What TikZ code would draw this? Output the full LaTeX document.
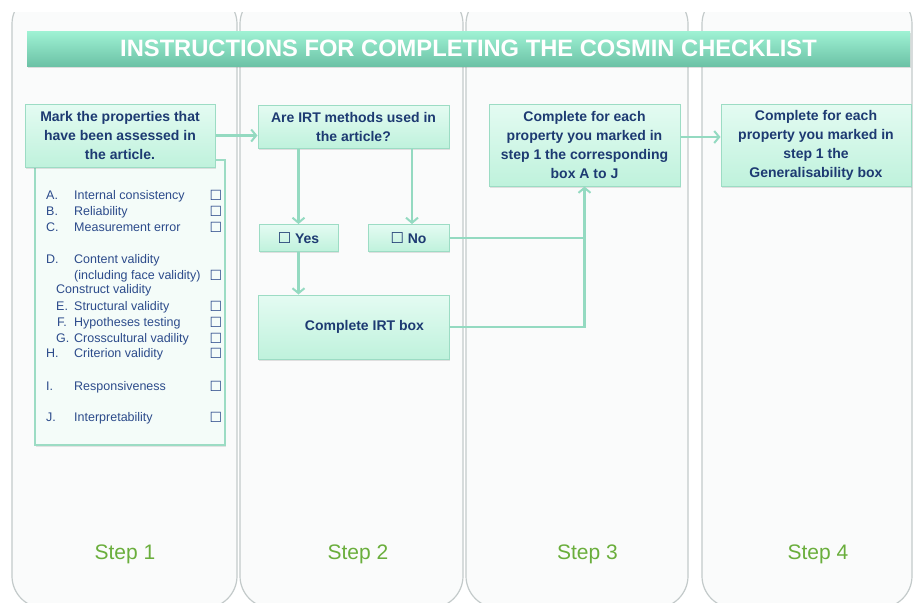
\documentclass[tikz,border=0pt]{standalone}
\usepackage{fontspec}
\setmainfont{Liberation Sans}
\newfontfamily\symf{DejaVu Sans}
\usetikzlibrary{arrows.meta,shadows,calc}
\definecolor{bannertop}{HTML}{9FF2D4}
\definecolor{bannerbot}{HTML}{6CC2A6}
\definecolor{boxtop}{HTML}{E4FBF2}
\definecolor{boxbot}{HTML}{BFF2DC}
\definecolor{boxline}{HTML}{9CDCC4}
\definecolor{connc}{HTML}{94DAC1}
\definecolor{navy}{HTML}{1D3A72}
\definecolor{listblue}{HTML}{2C4B8B}
\definecolor{listfill}{HTML}{F4FCF9}
\definecolor{panelbg}{HTML}{FAFBFB}
\definecolor{panelline}{HTML}{C3CACA}
\definecolor{stepgreen}{HTML}{6AAE3C}
\tikzset{
  panel/.style={rounded corners=32pt, fill=panelbg, draw=panelline, line width=1.2pt},
  banner/.style={minimum width=883pt, minimum height=35pt, inner sep=0pt, top color=bannertop, bottom color=bannerbot, text=white,
    font=\bfseries\fontsize{23.7}{28}\selectfont, drop shadow={shadow xshift=1pt,shadow yshift=-1.5pt,opacity=.25}},
  stepbox/.style={draw=boxline, line width=1pt, top color=boxtop, bottom color=boxbot, inner sep=0pt, align=center, text=navy,
    font=\bfseries\fontsize{14}{19}\selectfont, drop shadow={shadow xshift=1pt,shadow yshift=-1.5pt,opacity=.22}},
  listbox/.style={draw=boxline, line width=1.3pt, fill=listfill, inner sep=0pt, drop shadow={shadow xshift=1pt,shadow yshift=-1.5pt,opacity=.2}},
  itm/.style={anchor=base west, inner sep=0pt, text=listblue, font=\fontsize{12.5}{15}\selectfont},
  cbx/.style={anchor=center, inner sep=0pt, text=listblue, font=\symf\fontsize{14}{14}\selectfont},
  steplbl/.style={anchor=base, inner sep=0pt, text=stepgreen, font=\fontsize{21}{24}\selectfont},
  conn/.style={draw=connc, line width=2.5pt},
  arr/.style={conn, -{Straight Barb[length=5pt,width=12pt,line width=2pt]}}
}
\begin{document}
\begin{tikzpicture}[x=1pt,y=-1pt]
\useasboundingbox (0,0) rectangle (914,603);
\fill[white] (0,0) rectangle (914,603);
% panels
\begin{scope}
\clip (0,12) rectangle (914,603);
\draw[panel] (12,-8) rectangle (237,608);
\draw[panel] (240,-8) rectangle (463,608);
\draw[panel] (466,-8) rectangle (688,608);
\draw[panel] (702,-8) rectangle (912,608);
\end{scope}
% banner
\node[banner] (title) at (468.5,48.5) {INSTRUCTIONS FOR COMPLETING THE COSMIN CHECKLIST};
% list box
\node[listbox, minimum width=190pt, minimum height=285pt] (lst) at (130,302.5) {};
% step boxes
\node[stepbox, minimum width=190pt, minimum height=63pt] (box1) at (120,135.5) {Mark the properties that\\have been assessed in\\the article.};
\node[stepbox, minimum width=191pt, minimum height=43pt] (box2) at (353.5,126.5) {Are IRT methods used in\\the article?};
\node[stepbox, minimum width=191pt, minimum height=82pt] (box3) at (584.5,145) {Complete for each\\property you marked in\\step 1 the corresponding\\box A to J};
\node[stepbox, minimum width=190pt, minimum height=82pt] (box4) at (816,145) {Complete for each\\property you marked in\\step 1 the\\Generalisability box};
\node[stepbox, minimum width=79pt, minimum height=27pt] (yes) at (298.5,238) {{\symf\fontsize{15}{15}\selectfont\mdseries ☐} Yes};
\node[stepbox, minimum width=81pt, minimum height=27pt] (no) at (408.5,238) {{\symf\fontsize{15}{15}\selectfont\mdseries ☐} No};
\node[stepbox, minimum width=191pt, minimum height=64pt] (irt) at (353.5,327) {\hspace*{22pt}Complete IRT box};
% list items
\node[itm] (lA) at (46,199) {A.};  \node[itm] (tA) at (74,199) {Internal consistency};
\node[itm] (lB) at (46,215) {B.};  \node[itm] (tB) at (74,215) {Reliability};
\node[itm] (lC) at (46,231) {C.};  \node[itm] (tC) at (74,231) {Measurement error};
\node[itm] (lD) at (46,263) {D.};  \node[itm] (tD) at (74,263) {Content validity};
\node[itm] (tD2) at (74,279) {(including face validity)};
\node[itm] (tCV) at (56,293) {Construct validity};
\node[itm] (lE) at (56,310) {E.};  \node[itm] (tE) at (74,310) {Structural validity};
\node[itm] (lF) at (57,326) {F.};  \node[itm] (tF) at (74,326) {Hypotheses testing};
\node[itm] (lG) at (56,342) {G.};  \node[itm] (tG) at (74,342) {Crosscultural vadility};
\node[itm] (lH) at (46,357) {H.};  \node[itm] (tH) at (74,357) {Criterion validity};
\node[itm] (lI) at (46,390) {I.};  \node[itm] (tI) at (74,390) {Responsiveness};
\node[itm] (lJ) at (46,421) {J.};  \node[itm] (tJ) at (74,421) {Interpretability};
\node[cbx] (cA) at (216,195) {☐};
\node[cbx] (cB) at (216,211) {☐};
\node[cbx] (cC) at (216,227) {☐};
\node[cbx] (cD) at (216,275) {☐};
\node[cbx] (cE) at (216,306) {☐};
\node[cbx] (cF) at (216,322) {☐};
\node[cbx] (cG) at (216,338) {☐};
\node[cbx] (cH) at (216,353) {☐};
\node[cbx] (cI) at (216,386) {☐};
\node[cbx] (cJ) at (216,417) {☐};
% connectors
\draw[arr] (box1.east) -- (box1.east -| box2.west);
\draw[arr] (box2.south -| yes.north) -- (yes.north);
\draw[arr] ([xshift=3.5pt]box2.south -| no.north) -- ([xshift=3.5pt]no.north);
\draw[arr] (yes.south) -- (yes.south |- irt.north);
\coordinate (j) at (irt.east -| box3.south);
\draw[arr] (irt.east) -- (j) -- (box3.south);
\draw[conn] (no.east) -- (no.east -| box3.south);
\draw[arr] ([yshift=8pt]box3.east) -- ([yshift=8pt]box3.east -| box4.west);
% step labels
\node[steplbl] (s1) at (125,559) {Step 1};
\node[steplbl] (s2) at (358,559) {Step 2};
\node[steplbl] (s3) at (587.5,559) {Step 3};
\node[steplbl] (s4) at (818,559) {Step 4};
\end{tikzpicture}
\end{document}
